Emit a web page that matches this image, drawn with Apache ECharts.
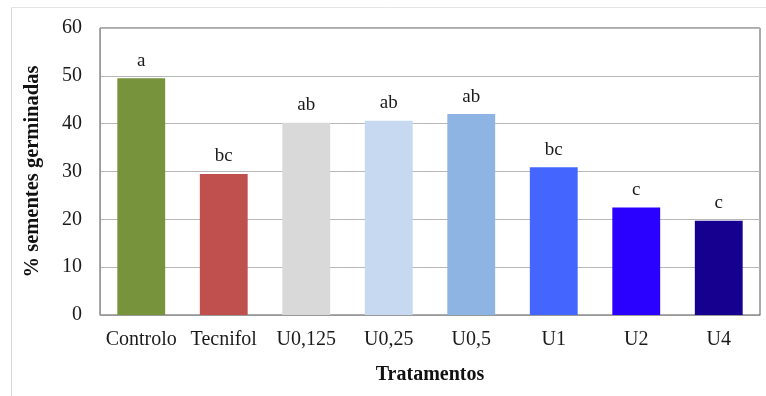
<!DOCTYPE html>
<html><head><meta charset="utf-8">
<script src="https://cdn.jsdelivr.net/npm/echarts@6/dist/echarts.min.js"></script>
<style>html,body{margin:0;padding:0;background:#fff;}#c{width:766px;height:396px;}</style>
</head><body><div id="c"></div>
<script>
const categories = ['Controlo','Tecnifol','U0,125','U0,25','U0,5','U1','U2','U4'];
const values = [49.5, 29.5, 40.2, 40.6, 42.0, 30.9, 22.5, 19.7];
const letters = ['a','bc','ab','ab','ab','bc','c','c'];
const colors = ['#77933C','#C0504D','#D9D9D9','#C6D9F1','#8DB4E2','#4466FF','#2A00FF','#150090'];
const yTicks = [0,10,20,30,40,50,60];

const chart = echarts.init(document.getElementById('c'));
const font = 'Liberation Serif';
chart.setOption({
  animation:false,
  textStyle:{fontFamily:font},
  graphic:[
    {type:'line',shape:{x1:11.5,y1:7.5,x2:11.5,y2:396},style:{stroke:'#d8d8d8',lineWidth:1}},
    {type:'line',shape:{x1:11.5,y1:7.5,x2:766,y2:7.5},style:{stroke:'#e4e4e4',lineWidth:1}}
  ],
  grid:{left:100,right:6,top:28,bottom:81,show:true,borderColor:'#555',borderWidth:1},
  xAxis:{type:'category',data:categories,
    axisLine:{lineStyle:{color:'#999'}},axisTick:{show:false},
    axisLabel:{color:'#1a1a1a',fontSize:20,fontFamily:font,margin:15,interval:0},
    name:'Tratamentos',nameLocation:'middle',nameGap:50,
    nameTextStyle:{fontSize:20,fontWeight:'bold',color:'#111',fontFamily:font}},
  yAxis:{type:'value',min:yTicks[0],max:yTicks[yTicks.length-1],interval:10,
    axisLine:{show:true,lineStyle:{color:'#999'}},axisTick:{show:false},
    splitLine:{lineStyle:{color:'#b8b8b8'}},
    axisLabel:{color:'#1a1a1a',fontSize:20,fontFamily:font,margin:18},
    name:'% sementes germinadas',nameLocation:'middle',nameGap:57,
    nameTextStyle:{fontSize:20.5,fontWeight:'bold',color:'#111',fontFamily:font}},
  series:[{type:'bar',barWidth:'58%',
    data:values.map((v,i)=>({value:v,itemStyle:{color:colors[i]}})),
    label:{show:true,position:'top',distance:8,fontSize:19,color:'#1a1a1a',fontFamily:font,
      formatter:p=>letters[p.dataIndex]}}]
});
</script></body></html>
